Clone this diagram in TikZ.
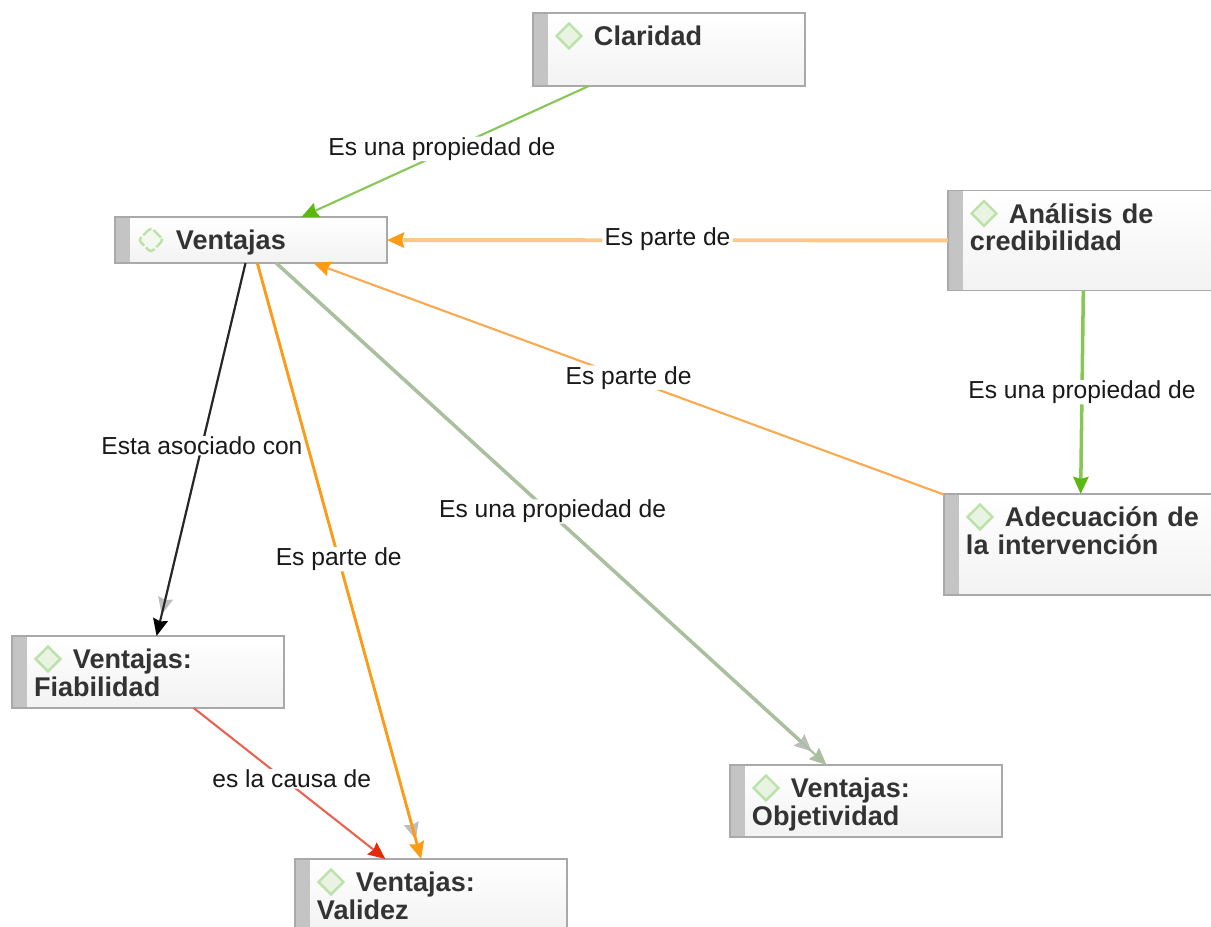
\documentclass[tikz,border=0pt]{standalone}
\usepackage{fontspec}
\setmainfont{Liberation Sans}
\usetikzlibrary{arrows.meta,shapes.geometric}

\definecolor{boxline}{HTML}{A9A9A9}
\definecolor{boxbar}{HTML}{C4C4C4}
\definecolor{boxtext}{HTML}{333333}
\definecolor{iconline}{HTML}{BBE2A8}
\definecolor{iconfill}{HTML}{E9F3E2}
\definecolor{propline}{HTML}{86C755}
\definecolor{prophead}{HTML}{5CB810}
\definecolor{partline}{HTML}{F9A94F}
\definecolor{palepart}{HTML}{F9C88C}
\definecolor{parthead}{HTML}{FF9A14}
\definecolor{causeline}{HTML}{E8644E}
\definecolor{causehead}{HTML}{E62A0C}
\definecolor{mixline}{HTML}{A9BF9E}
\definecolor{ghost}{HTML}{BDBDBD}

\tikzset{
    concept/.style={draw=boxline, line width=.45pt, rectangle, top color=white, bottom color=black!5,
        text=boxtext, font=\fontsize{7.7}{7.7}\selectfont\bfseries, align=left,
        text width=2.28cm, inner xsep=.22cm, inner ysep=0pt, outer sep=0pt,
        text height=.33cm, text depth=#1,
        path picture={\fill[boxbar] (path picture bounding box.south west) rectangle
            ([xshift=.15cm]path picture bounding box.north west);}},
    icon/.style={diamond, draw=iconline, fill=iconfill, line width=.7pt, inner sep=0pt, minimum size=.26cm},
    lbl/.style={fill=white, text=black!90, rounded corners=2pt, inner xsep=.6pt, inner ysep=.2pt, font=\fontsize{7}{7}\selectfont},
    tip/.style={-{Stealth[length=.17cm, width=.15cm, inset=.02cm, color=#1]}},
    link/.style={line width=.6pt}
}
\newcommand{\firstline}{\hspace*{.39cm}}

\begin{document}
\begin{tikzpicture}
    \useasboundingbox (0,0) rectangle (12.11,9.27);
    \clip (0,0) rectangle (12.11,9.27);

    \node[concept=.40cm] (claridad) at (6.69,8.775) {\firstline Claridad};
    \node[concept=.13cm] (ventajas) at (2.51,6.87) {\firstline Ventajas};
    \node[concept=.67cm] (analisis) at (10.84,6.865) {\firstline Análisis de\\credibilidad};
    \node[concept=.68cm] (adecuacion) at (10.80,3.825) {\makebox[2.28cm][l]{\firstline Adecuación de}\\la intervención};
    \node[concept=.39cm] (fiabilidad) at (1.48,2.55) {\firstline Ventajas:\\Fiabilidad};
    \node[concept=.39cm] (validez) at (4.31,.32) {\firstline Ventajas:\\Validez};
    \node[concept=.39cm] (objetividad) at (8.66,1.26) {\firstline Ventajas:\\Objetividad};

    \foreach \n in {claridad,analisis,adecuacion,fiabilidad,validez,objetividad}
        \node[icon] (icon\n) at ([shift={(.36,-.23)}]\n.north west) {};
    \node[icon, dash pattern=on 3pt off .7pt, fill=iconfill!50, rounded corners=1pt] (iconventajas) at ([shift={(.36,-.23)}]ventajas.north west) {};

    % grey arrows under the coloured ones
    \draw[ghost, link, tip=ghost, shorten >=.22cm] (ventajas) -- (fiabilidad);
    \draw[ghost, link, tip=ghost, shorten >=.2cm] (ventajas) -- (validez);
    \draw[mixline, line width=1pt, tip=ghost, shorten >=.2cm] (ventajas) -- (objetividad);

    \draw[propline, link, tip=prophead] (claridad) -- node[lbl, pos=.48, xshift=-.09cm] (lblclaridad) {Es una propiedad de} (ventajas);
    \draw[palepart, line width=1.1pt, tip=parthead] (analisis) -- node[lbl, yshift=.01cm] (lblanalisis) {Es parte de} (ventajas);
    \draw[partline, link, tip=parthead] (adecuacion) -- node[lbl, pos=.505, xshift=.03cm] (lbladecuacion) {Es parte de} (ventajas);
    \draw[propline, line width=1pt, tip=prophead] (analisis) -- node[lbl] (lblpropiedad) {Es una propiedad de} (adecuacion);
    \draw[black!85, link, tip=black] (ventajas) -- node[lbl, pos=.49] (lblasociado) {Esta asociado con} (fiabilidad);
    \draw[parthead, line width=.8pt, tip=parthead] (ventajas) -- node[lbl, pos=.497] (lblvalidez) {Es parte de} (validez);
    \draw[mixline, link, tip=mixline] (ventajas) -- node[lbl, pos=.495, xshift=.04cm] (lblobjetividad) {Es una propiedad de} (objetividad);
    \draw[causeline, link, tip=causehead] (fiabilidad) -- node[lbl, pos=.47, xshift=.08cm] (lblcausa) {es la causa de} (validez);
\end{tikzpicture}
\end{document}
